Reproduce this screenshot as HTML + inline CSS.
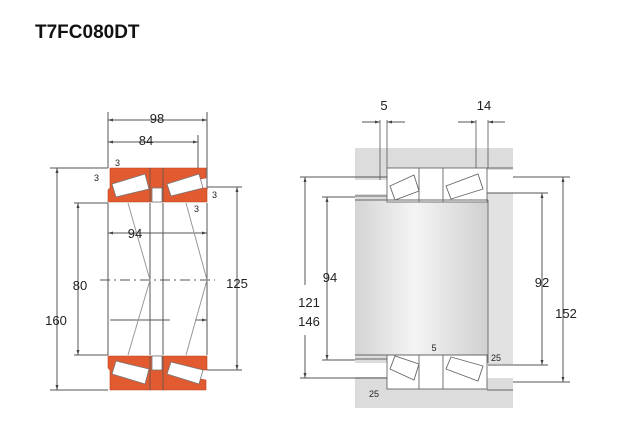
<!DOCTYPE html>
<html><head><meta charset="utf-8"><style>
html,body{margin:0;padding:0;background:#fff;}
svg{display:block}
text{font-family:"Liberation Sans",Arial,sans-serif;fill:#222}
</style></head><body>
<svg width="640" height="440" viewBox="0 0 640 440" xmlns="http://www.w3.org/2000/svg">
<defs>
<linearGradient id="sh" x1="0" x2="1" y1="0" y2="0">
<stop offset="0" stop-color="#d4d4d4"/><stop offset="0.45" stop-color="#f4f4f4"/><stop offset="1" stop-color="#d0d0d0"/>
</linearGradient>
<marker id="a" viewBox="0 0 10 10" refX="10" refY="5" markerWidth="5" markerHeight="5" orient="auto-start-reverse"><path d="M0,2 L10,5 L0,8z" fill="#444"/></marker>
</defs>
<text x="35" y="38" font-size="19" font-weight="bold" style="fill:#111">T7FC080DT</text>

<!-- LEFT DRAWING -->
<g stroke="#555" stroke-width="1" fill="none">
<line x1="108" y1="112" x2="108" y2="168"/><line x1="207" y1="112" x2="207" y2="190"/><line x1="198" y1="135" x2="198" y2="170"/>
<line x1="108" y1="120" x2="207" y2="120" marker-start="url(#a)" marker-end="url(#a)"/>
<line x1="108" y1="142" x2="198" y2="142" marker-start="url(#a)" marker-end="url(#a)"/>
<line x1="50" y1="168" x2="108" y2="168"/><line x1="50" y1="390" x2="108" y2="390"/>
<line x1="57" y1="168" x2="57" y2="390" marker-start="url(#a)" marker-end="url(#a)"/>
<line x1="74" y1="203" x2="108" y2="203"/><line x1="74" y1="355" x2="108" y2="355"/>
<line x1="78" y1="203" x2="78" y2="355" marker-start="url(#a)" marker-end="url(#a)"/>
<line x1="207" y1="187" x2="242" y2="187"/><line x1="207" y1="370" x2="242" y2="370"/>
<line x1="237" y1="187" x2="237" y2="370" marker-start="url(#a)" marker-end="url(#a)"/>
<line x1="108" y1="233" x2="207" y2="233" marker-start="url(#a)" marker-end="url(#a)"/>
<line x1="110" y1="320" x2="170" y2="320"/><line x1="195" y1="320" x2="207" y2="320" marker-end="url(#a)"/>
<line x1="108" y1="203" x2="108" y2="355"/><line x1="150" y1="203" x2="150" y2="355"/>
<line x1="163" y1="203" x2="163" y2="355"/><line x1="207" y1="203" x2="207" y2="355"/>
<line x1="100" y1="280" x2="215" y2="280" stroke-dasharray="10,4,2,4"/>
<line x1="128" y1="203" x2="150" y2="280" stroke="#999"/><line x1="128" y1="355" x2="150" y2="280" stroke="#999"/>
<line x1="186" y1="203" x2="207" y2="280" stroke="#999"/><line x1="186" y1="355" x2="207" y2="280" stroke="#999"/>
</g>
<g fill="#e25a30" stroke="#b84020" stroke-width="0.6">
<path d="M110,168 H206 V178 L200,179 V188 H207 V202 H108 V190 L110,188 Z"/>
<path d="M110,390 H206 V380 L200,379 V370 H207 V356 H108 V368 L110,370 Z"/>
</g>
<g fill="#fff" stroke="#777" stroke-width="0.8">
<path d="M112,184 L145,174 L149,189 L116,197 Z"/><path d="M167,184 L199,174 L203,188 L171,196 Z"/>
<rect x="152" y="188" width="10" height="14"/>
<path d="M112,374 L145,384 L149,369 L116,361 Z"/><path d="M167,374 L199,384 L203,370 L171,362 Z"/>
<rect x="152" y="356" width="10" height="14"/>
</g>
<g stroke="#555" stroke-width="0.8"><line x1="150" y1="168" x2="150" y2="202"/><line x1="163" y1="168" x2="163" y2="202"/><line x1="150" y1="356" x2="150" y2="390"/><line x1="163" y1="356" x2="163" y2="390"/></g>
<g font-size="13">
<text x="157" y="123" text-anchor="middle">98</text>
<text x="146" y="145" text-anchor="middle">84</text>
<text x="135" y="238" text-anchor="middle">94</text>
<text x="80" y="290" text-anchor="middle">80</text>
<text x="237" y="288" text-anchor="middle">125</text>
<text x="56" y="325" text-anchor="middle">160</text>
</g>
<g font-size="9"><text x="115" y="166">3</text><text x="94" y="181">3</text><text x="212" y="198">3</text><text x="194" y="212">3</text></g>

<!-- RIGHT DRAWING -->
<rect x="355" y="148" width="158" height="260" fill="#dcdcdc"/>
<rect x="355" y="180" width="32" height="14" fill="#fff"/>
<rect x="487" y="170" width="26" height="23" fill="#fff"/>
<rect x="355" y="363" width="32" height="14" fill="#fff"/>
<rect x="487" y="364" width="26" height="14" fill="#fff"/>
<rect x="355" y="200" width="133" height="155" fill="url(#sh)"/>
<rect x="488" y="193" width="25" height="170" fill="#e2e2e2"/>
<g fill="#fff" stroke="#666" stroke-width="0.9">
<rect x="387" y="168" width="100" height="34"/>
<rect x="387" y="355" width="100" height="34"/>
</g>
<g stroke="#666" stroke-width="0.9" fill="none">
<line x1="419" y1="168" x2="419" y2="202"/><line x1="443" y1="168" x2="443" y2="202"/>
<line x1="419" y1="355" x2="419" y2="389"/><line x1="443" y1="355" x2="443" y2="389"/>
<line x1="355" y1="196" x2="387" y2="196"/><line x1="355" y1="200" x2="488" y2="200"/>
<line x1="355" y1="355" x2="488" y2="355"/><line x1="355" y1="359" x2="387" y2="359"/>
<line x1="487" y1="168" x2="513" y2="168"/><line x1="487" y1="390" x2="513" y2="390"/>
<line x1="487" y1="193" x2="513" y2="193"/><line x1="488" y1="200" x2="488" y2="363"/>
<path d="M390,186 L414,175 L419,191 L395,200 Z"/><path d="M446,186 L478,174 L483,189 L451,199 Z"/>
<path d="M390,369 L414,380 L419,364 L395,356 Z"/><path d="M446,369 L478,381 L483,366 L451,357 Z"/>
<line x1="380" y1="120" x2="380" y2="180"/><line x1="387" y1="120" x2="387" y2="168"/>
<line x1="476" y1="120" x2="476" y2="168"/><line x1="488" y1="120" x2="488" y2="168"/>
</g>
<g stroke="#555" stroke-width="1" fill="none">
<line x1="362" y1="122" x2="380" y2="122" marker-end="url(#a)"/><line x1="405" y1="122" x2="387" y2="122" marker-end="url(#a)"/>
<line x1="458" y1="122" x2="476" y2="122" marker-end="url(#a)"/><line x1="505" y1="122" x2="488" y2="122" marker-end="url(#a)"/>
<line x1="300" y1="177" x2="387" y2="177"/><line x1="300" y1="378" x2="387" y2="378"/>
<line x1="305" y1="177" x2="305" y2="285" marker-start="url(#a)"/><line x1="305" y1="335" x2="305" y2="378" marker-end="url(#a)"/>
<line x1="322" y1="197" x2="355" y2="197"/><line x1="322" y1="360" x2="355" y2="360"/>
<line x1="327" y1="197" x2="327" y2="360" marker-start="url(#a)" marker-end="url(#a)"/>
<line x1="488" y1="193" x2="548" y2="193"/><line x1="488" y1="365" x2="548" y2="365"/>
<line x1="542" y1="193" x2="542" y2="365" marker-start="url(#a)" marker-end="url(#a)"/>
<line x1="513" y1="177" x2="570" y2="177"/><line x1="513" y1="382" x2="570" y2="382"/>
<line x1="563" y1="177" x2="563" y2="382" marker-start="url(#a)" marker-end="url(#a)"/>
</g>
<g font-size="13">
<text x="384" y="110" text-anchor="middle">5</text>
<text x="484" y="110" text-anchor="middle">14</text>
<text x="330" y="282" text-anchor="middle">94</text>
<text x="542" y="287" text-anchor="middle">92</text>
<text x="309" y="307" text-anchor="middle">121</text>
<text x="309" y="326" text-anchor="middle">146</text>
<text x="566" y="318" text-anchor="middle">152</text>
</g>
<g font-size="9"><text x="434" y="351" text-anchor="middle">5</text><text x="496" y="361" text-anchor="middle">25</text><text x="374" y="397" text-anchor="middle">25</text></g>
</svg>
</body></html>
